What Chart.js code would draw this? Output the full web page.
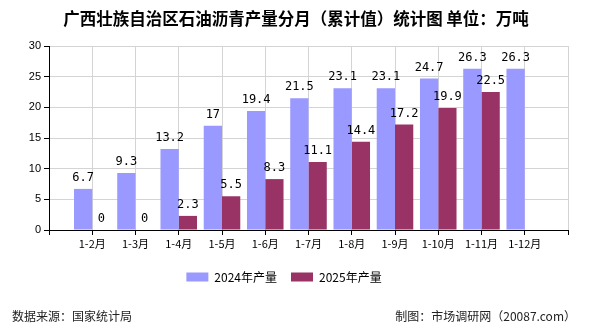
<!DOCTYPE html>
<html>
<head>
<meta charset="utf-8">
<script src="https://cdn.jsdelivr.net/npm/chart.js@4/dist/chart.umd.min.js"></script>
<style>
  html, body { margin: 0; padding: 0; background: #fff; }
  #wrap { width: 590px; height: 330px; position: relative; }
</style>
</head>
<body>
<div id="wrap"><canvas id="myChart" width="590" height="330"></canvas></div>
<script>
const months = ['1-2月', '1-3月', '1-4月', '1-5月', '1-6月', '1-7月', '1-8月', '1-9月', '1-10月', '1-11月', '1-12月'];
const output2024 = [6.7, 9.3, 13.2, 17, 19.4, 21.5, 23.1, 23.1, 24.7, 26.3, 26.3];
const output2025 = [0, 0, 2.3, 5.5, 8.3, 11.1, 14.4, 17.2, 19.9, 22.5, null];
const yTicks = [0, 5, 10, 15, 20, 25, 30];

const titleText = '广西壮族自治区石油沥青产量分月（累计值）统计图 单位：万吨';
const sourceText = '数据来源：国家统计局';
const madeByText = '制图：市场调研网（20087.com）';

// empty slots on both ends so the bars sit on the inner ticks
const labels = [''].concat(months, ['']);
const pad = arr => [null].concat(arr, [null]);

const cjk = '"Noto Sans CJK SC", "Noto Sans", sans-serif';

const textPlugin = {
    id: 'texts',
    afterDatasetsDraw(chart) {
        const c = chart.ctx;
        c.save();
        c.fillStyle = '#000';
        c.font = '12px "DejaVu Sans Mono", monospace';
        c.textAlign = 'center';
        c.textBaseline = 'bottom';
        chart.data.datasets.forEach((ds, i) => {
            chart.getDatasetMeta(i).data.forEach((bar, j) => {
                const v = ds.data[j];
                if (v === null || v === undefined) return;
                c.fillText(String(v), bar.x, bar.y - 5);
            });
        });
        c.restore();
    },
    afterDraw(chart) {
        const c = chart.ctx;
        c.save();
        c.fillStyle = '#000';
        c.textBaseline = 'middle';
        c.font = 'bold 16.5px ' + cjk;
        c.textAlign = 'center';
        c.fillText(titleText, 296, 19);
        c.font = '12px ' + cjk;
        c.fillStyle = '#222';
        c.textAlign = 'left';
        c.fillText(sourceText, 12, 316);
        c.textAlign = 'right';
        c.fillText(madeByText, 576, 316);
        c.restore();
    }
};

const ctx = document.getElementById('myChart').getContext('2d');
const myChart = new Chart(ctx, {
    type: 'bar',
    data: {
        labels: labels,
        datasets: [{
            label: '2024年产量',
            data: pad(output2024),
            backgroundColor: '#9999ff',
            categoryPercentage: 0.845,
            barPercentage: 1
        }, {
            label: '2025年产量',
            data: pad(output2025),
            backgroundColor: '#993366',
            categoryPercentage: 0.845,
            barPercentage: 1
        }]
    },
    options: {
        responsive: false,
        animation: false,
        layout: {
            padding: { top: 46, left: 0, right: 22, bottom: 37 }
        },
        plugins: {
            legend: {
                position: 'bottom',
                labels: {
                    boxWidth: 22,
                    boxHeight: 9,
                    padding: 14,
                    color: '#000',
                    font: { family: cjk, size: 12 }
                }
            },
            tooltip: { enabled: false }
        },
        scales: {
            x: {
                offset: false,
                grid: {
                    offset: false,
                    color: '#d4d4d4',
                    tickColor: '#000',
                    tickLength: 5
                },
                border: { color: '#000' },
                ticks: {
                    autoSkip: false,
                    maxRotation: 0,
                    color: '#000',
                    padding: 2,
                    font: { family: cjk, size: 11 }
                },
                afterFit(scale) { scale.height = 27; }
            },
            y: {
                min: 0,
                max: 30,
                afterBuildTicks(scale) { scale.ticks = yTicks.map(v => ({ value: v })); },
                grid: {
                    color: '#d4d4d4',
                    tickColor: '#000',
                    tickLength: 5
                },
                border: { color: '#000' },
                ticks: {
                    color: '#000',
                    padding: 3,
                    font: { family: 'Arial, "Liberation Sans", sans-serif', size: 11 }
                },
                afterFit(scale) { scale.width = 49; }
            }
        }
    },
    plugins: [textPlugin]
});
</script>
</body>
</html>
